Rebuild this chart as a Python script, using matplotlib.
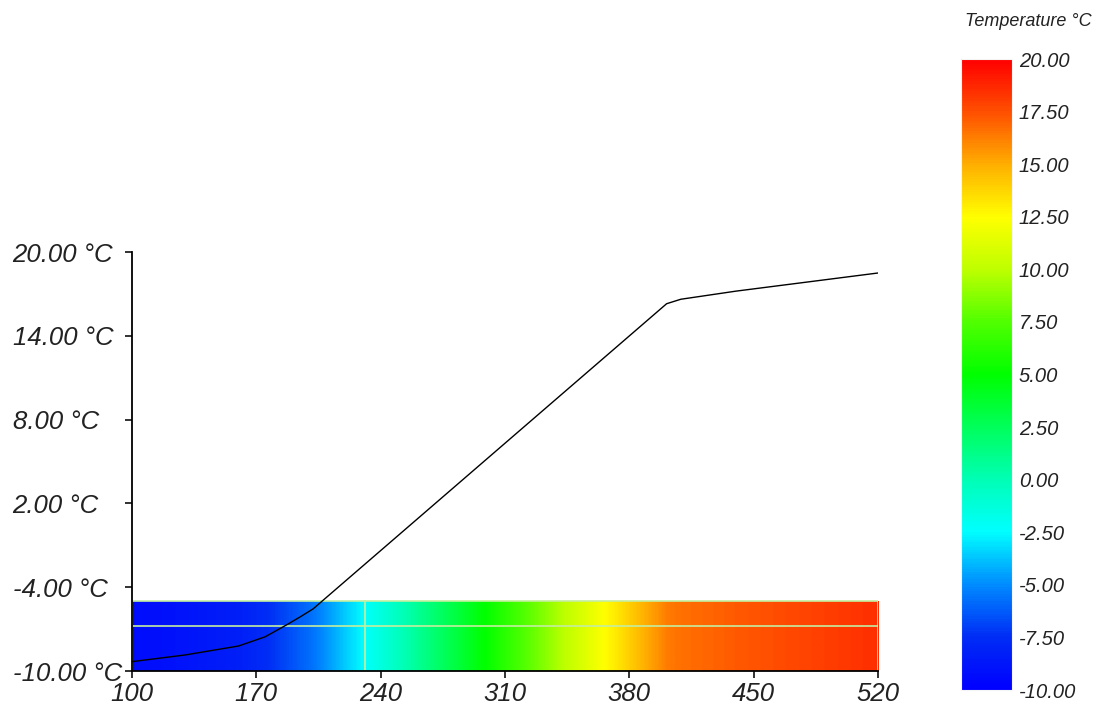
import numpy as np
import matplotlib
matplotlib.use("Agg")
import matplotlib.pyplot as plt
from matplotlib.colors import LinearSegmentedColormap, Normalize
from matplotlib.cm import ScalarMappable

plt.rcParams['font.family'] = ['Liberation Sans', 'DejaVu Sans']
plt.rcParams['font.style'] = 'italic'

# temperature profile along the line
distance = [100, 130, 160, 175, 187, 195, 202, 250, 300, 350, 401, 409, 440, 480, 520]
temperature = [-9.33, -8.85, -8.21, -7.55, -6.7, -6.1, -5.55, -0.28, 5.21, 10.7,
               16.3, 16.62, 17.2, 17.85, 18.5]

x_ticks = [100, 170, 240, 310, 380, 450, 520]
y_ticks = [-10, -4, 2, 8, 14, 20]
cbar_ticks = [-10, -7.5, -5, -2.5, 0, 2.5, 5, 7.5, 10, 12.5, 15, 17.5, 20]

# colour strip under the curve and the probe cross-hair
strip_range = [-10, -5]
probe_x = 231
probe_y = -6.75
t_min, t_max = -10, 20

# blue -> cyan -> green -> yellow -> red, as in the colour legend
cmap_nodes = [(0.0, (0, 0, 255)), (1/12, (0, 45, 245)), (2/12, (0, 140, 255)),
              (3/12, (0, 255, 255)), (4/12, (0, 255, 180)), (5/12, (0, 255, 90)),
              (6/12, (0, 255, 0)), (7/12, (80, 255, 0)), (8/12, (190, 255, 0)),
              (9/12, (255, 255, 0)), (10/12, (255, 175, 0)), (11/12, (255, 80, 0)),
              (1.0, (255, 0, 0))]
cmap = LinearSegmentedColormap.from_list(
    "temp", [(p, tuple(c / 255 for c in rgb)) for p, rgb in cmap_nodes])
norm = Normalize(t_min, t_max)

fig = plt.figure(figsize=(10.96, 7.07), dpi=100)
ax = fig.add_axes([0.1204, 0.0509, 0.6807, 0.5926])

xs = np.linspace(distance[0], distance[-1], 600)
strip = np.interp(xs, distance, temperature)[np.newaxis, :]
ax.imshow(strip, cmap=cmap, norm=norm, aspect='auto', interpolation='bilinear',
          extent=[distance[0], distance[-1], strip_range[0], strip_range[1]],
          origin='lower', zorder=1)

probe_color = '#c4eea0'
ax.plot([distance[0], distance[-1], distance[-1]],
        [strip_range[1], strip_range[1], strip_range[0]], color=probe_color, lw=1.2, zorder=2)
ax.plot([distance[0], distance[0]], strip_range, color=probe_color, lw=1.2, zorder=2)
ax.plot([distance[0], distance[-1]], [probe_y, probe_y], color=probe_color, lw=1.2, zorder=2)
ax.plot([probe_x, probe_x], strip_range, color=probe_color, lw=1.2, zorder=2)

ax.plot(distance, temperature, color='black', lw=1.0, zorder=3)

ax.set_xlim(distance[0], distance[-1])
ax.set_ylim(t_min, t_max)
ax.set_xticks(x_ticks)
ax.set_xticklabels([str(v) for v in x_ticks])
ax.set_yticks(y_ticks)
ax.set_yticklabels([f"{v:.2f} °C" for v in y_ticks], ha='left')
for s in ['top', 'right']:
    ax.spines[s].set_visible(False)
for s in ['left', 'bottom']:
    ax.spines[s].set_linewidth(1.3)
ax.tick_params(axis='both', length=5, width=1.3, labelsize=18.5, colors='#222222')
ax.tick_params(axis='y', pad=81)
ax.tick_params(axis='x', pad=3)

cax = fig.add_axes([0.8768, 0.024, 0.0465, 0.8925])
cb = fig.colorbar(ScalarMappable(norm=norm, cmap=cmap), cax=cax, ticks=cbar_ticks)
cb.outline.set_edgecolor('#f4f4f4')
cb.ax.tick_params(length=0, pad=5, labelsize=14.5, colors='#222222')
cb.ax.set_yticklabels([f"{v:.2f}" for v in cbar_ticks])
fig.text(0.938, 0.969, "Temperature °C", ha='center', va='center', fontsize=13,
         color='#222222')

fig.savefig("out.png", dpi=100)
